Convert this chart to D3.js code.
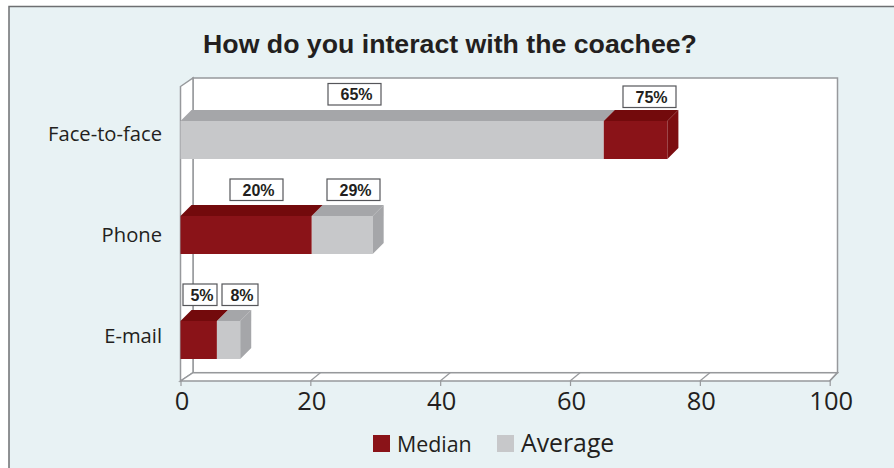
<!DOCTYPE html>
<html><head><meta charset="utf-8">
<script src="https://cdnjs.cloudflare.com/ajax/libs/d3/7.8.5/d3.min.js"></script>
<style>html,body{margin:0;padding:0;background:#fff}svg{display:block}</style>
</head><body><svg id="c" width="894" height="468"></svg>
<script>
const title = "How do you interact with the coachee?";
const categories = ["Face-to-face", "Phone", "E-mail"];
const medianLabels = [75, 20, 5];
const averageLabels = [65, 29, 8];
const medianBars = [75, 20.2, 5.6];
const averageBars = [65.2, 29.6, 9.2];
const ticks = [0, 20, 40, 60, 80, 100];
const seriesNames = ["Median", "Average"];

const svg = d3.select("#c");
const C = {bg:"#e8f2f4", frame:"#6d6f71", axis:"#97999c", ink:"#231f20",
  redF:"#8a1318", redT:"#730a0c", redS:"#7c0d10", greyF:"#c7c8ca", greyT:"#a5a6a9", greyS:"#a5a6a9"};

svg.append("rect").attr("x",9).attr("y",6.5).attr("width",900).attr("height",480)
  .attr("fill",C.bg).attr("stroke",C.frame).attr("stroke-width",1.5);

const x = d3.scaleLinear().domain([0,100]).range([180.5,829.7]);
const barY = d3.scaleOrdinal().domain(categories).range([121,216,321]);
const labelY = d3.scalePoint().domain(categories).range([134,336]);
const barH = 38, dx = 11, dy = 11;

// wall + floor
const bx0=193, bx1=837.5, by0=78, by1=372.7, fy0=86.5, fy1=381;
svg.append("rect").attr("x",bx0).attr("y",by0).attr("width",bx1-bx0).attr("height",by1-by0)
  .attr("fill","#fff").attr("stroke",C.axis).attr("stroke-width",1.5);
svg.append("path").attr("d",`M${x(0)},${fy0}L${bx0},${by0}L${bx0},${by1}L${x(0)},${fy1}Z`)
  .attr("fill","#fff").attr("stroke",C.axis).attr("stroke-width",1.5);
svg.append("path").attr("d",`M${x(0)},${fy1}L${bx0},${by1}L${bx1},${by1}L${x(100)},${fy1}Z`)
  .attr("fill","#fff").attr("stroke",C.axis).attr("stroke-width",1.5);

// x axis
const axis = svg.append("g").attr("transform",`translate(0,${fy1})`)
  .call(d3.axisBottom(x).tickValues(ticks).tickSize(5).tickPadding(6));
axis.select(".domain").remove();
axis.selectAll("line").attr("stroke",C.axis).attr("stroke-width",1.2);
axis.selectAll("text").attr("fill",C.ink).attr("font-family","'Open Sans'").attr("font-size",25.5)
  .attr("dx",1);
ticks.forEach(t=>{ if(t===0) return;
  const d = x(t)===x(100)?7.5:10;
  svg.append("line").attr("x1",x(t)).attr("y1",fy1).attr("x2",x(t)+d).attr("y2",by1)
    .attr("stroke",C.axis).attr("stroke-width",1.2);
});

// bars
function segment(v0,v1,cat,front,top){
  const y = barY(cat), a = x(v0), b = x(v1);
  svg.append("path").attr("d",`M${a},${y}L${a+dx},${y-dy}L${b+dx},${y-dy}L${b},${y}Z`).attr("fill",top);
  svg.append("rect").attr("x",a).attr("y",y).attr("width",b-a).attr("height",barH).attr("fill",front);
}
function side(v,cat,col){
  const y = barY(cat), b = x(v);
  svg.append("path").attr("d",`M${b},${y}L${b+dx},${y-dy}L${b+dx},${y+barH-dy}L${b},${y+barH}Z`).attr("fill",col);
}
categories.forEach((cat,i)=>{
  const m = medianBars[i], a = averageBars[i];
  const med = ()=>segment(m<a?0:a, m, cat, C.redF, C.redT);
  const avg = ()=>segment(a<m?0:m, a, cat, C.greyF, C.greyT);
  if(m<a){ avg(); med(); side(a,cat,C.greyS); } else { avg(); med(); side(m,cat,C.redS); }
});

// category labels
svg.selectAll(".cat").data(categories).join("text").attr("class","cat")
  .attr("x",162).attr("y",d=>labelY(d)).attr("dy","0.35em").attr("text-anchor","end")
  .attr("font-family","'Open Sans'").attr("font-size",20.2).attr("fill",C.ink).text(d=>d);

// value boxes
const boxes = [
  [medianLabels[0],623,86,53],
  [averageLabels[0],328,83.5,53],
  [medianLabels[1],230,179,53],
  [averageLabels[1],327,179,53],
  [medianLabels[2],183,284,34],
  [averageLabels[2],222,284,36]
];
boxes.forEach(([v,bx,by,bw])=>{
  svg.append("rect").attr("x",bx).attr("y",by).attr("width",bw).attr("height",21.5)
    .attr("fill","#fff").attr("stroke","#55565a").attr("stroke-width",1.2);
  svg.append("text").attr("x",bx+bw/2+2).attr("y",by+11).attr("dy","0.35em").attr("text-anchor","middle")
    .attr("font-family","'Liberation Sans'").attr("font-weight","bold").attr("font-size",16)
    .attr("fill",C.ink).text(v+"%");
});

// title
svg.append("text").attr("x",450).attr("y",53).attr("text-anchor","middle")
  .attr("font-family","'Liberation Sans'").attr("font-weight","bold").attr("font-size",26.7)
  .attr("fill",C.ink).text(title);

// legend
svg.append("rect").attr("x",373).attr("y",435).attr("width",17).attr("height",17).attr("fill",C.redF);
svg.append("text").attr("x",397).attr("y",451.5).attr("font-family","'Open Sans'").attr("font-size",21.4).attr("fill",C.ink).text(seriesNames[0]);
svg.append("rect").attr("x",497).attr("y",435).attr("width",17).attr("height",17).attr("fill",C.greyF);
svg.append("text").attr("x",521).attr("y",451.5).attr("font-family","'Open Sans'").attr("font-size",24.8).attr("fill",C.ink).text(seriesNames[1]);
</script></body></html>
